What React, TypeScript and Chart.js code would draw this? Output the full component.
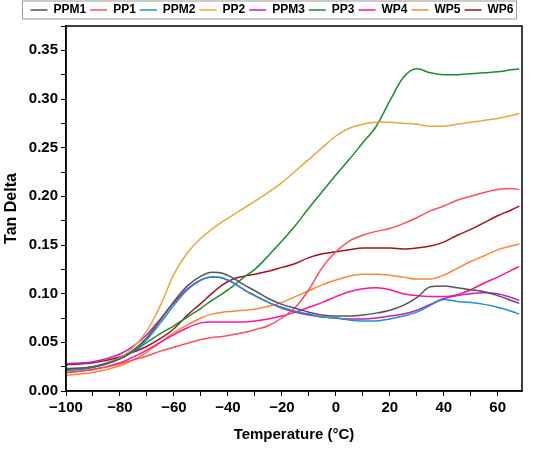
import { useEffect, useRef } from "react"
import { Chart, registerables } from "chart.js"

Chart.register(...registerables)

const temps = [-100, -90, -80, -75, -70, -65, -60, -55, -50, -46, -42, -38, -34, -30, -25, -20, -15, -10, -5, 0, 5, 10, 15, 20, 25, 30, 35, 40, 45, 50, 55, 60, 65, 68]

const ppm1 = [0.023, 0.025, 0.033, 0.042, 0.055, 0.073, 0.092, 0.108, 0.118, 0.122, 0.121, 0.116, 0.109, 0.103, 0.095, 0.089, 0.085, 0.081, 0.078, 0.077, 0.077, 0.078, 0.08, 0.083, 0.088, 0.096, 0.107, 0.108, 0.106, 0.104, 0.102, 0.098, 0.093, 0.09]
const pp1 = [0.019, 0.022, 0.028, 0.032, 0.036, 0.041, 0.045, 0.049, 0.053, 0.055, 0.056, 0.058, 0.06, 0.063, 0.067, 0.075, 0.086, 0.104, 0.127, 0.143, 0.154, 0.16, 0.164, 0.167, 0.172, 0.178, 0.185, 0.19, 0.196, 0.2, 0.204, 0.207, 0.208, 0.207]
const ppm2 = [0.021, 0.024, 0.033, 0.041, 0.053, 0.07, 0.088, 0.104, 0.114, 0.117, 0.116, 0.111, 0.104, 0.098, 0.091, 0.086, 0.082, 0.079, 0.076, 0.075, 0.073, 0.072, 0.072, 0.074, 0.077, 0.081, 0.088, 0.094, 0.092, 0.091, 0.089, 0.086, 0.082, 0.079]
const pp2 = [0.02, 0.024, 0.034, 0.045, 0.062, 0.088, 0.12, 0.142, 0.157, 0.166, 0.174, 0.181, 0.188, 0.195, 0.204, 0.214, 0.226, 0.238, 0.25, 0.262, 0.27, 0.274, 0.276, 0.276, 0.275, 0.274, 0.272, 0.272, 0.274, 0.276, 0.278, 0.28, 0.283, 0.285]
const ppm3 = [0.028, 0.03, 0.038, 0.046, 0.058, 0.074, 0.091, 0.105, 0.114, 0.117, 0.116, 0.111, 0.104, 0.098, 0.091, 0.085, 0.081, 0.078, 0.076, 0.075, 0.074, 0.074, 0.075, 0.077, 0.079, 0.083, 0.089, 0.095, 0.098, 0.1, 0.101, 0.1, 0.096, 0.093]
const pp3 = [0.022, 0.025, 0.034, 0.041, 0.05, 0.059, 0.067, 0.076, 0.085, 0.093, 0.1, 0.108, 0.117, 0.125, 0.139, 0.154, 0.17, 0.188, 0.205, 0.222, 0.238, 0.255, 0.272, 0.298, 0.322, 0.331, 0.327, 0.325, 0.325, 0.326, 0.327, 0.328, 0.33, 0.331]
const wp4 = [0.019, 0.022, 0.029, 0.035, 0.042, 0.05, 0.058, 0.065, 0.07, 0.071, 0.071, 0.071, 0.071, 0.072, 0.074, 0.077, 0.081, 0.086, 0.091, 0.097, 0.102, 0.105, 0.106, 0.104, 0.1, 0.098, 0.097, 0.097, 0.099, 0.104, 0.111, 0.117, 0.124, 0.128]
const wp5 = [0.016, 0.019, 0.026, 0.032, 0.04, 0.05, 0.06, 0.068, 0.075, 0.079, 0.081, 0.082, 0.083, 0.084, 0.087, 0.091, 0.097, 0.103, 0.109, 0.114, 0.118, 0.12, 0.12, 0.119, 0.117, 0.115, 0.115, 0.119, 0.126, 0.133, 0.139, 0.145, 0.149, 0.151]
const wp6 = [0.027, 0.029, 0.035, 0.04, 0.046, 0.054, 0.064, 0.078, 0.09, 0.1, 0.109, 0.115, 0.118, 0.12, 0.123, 0.127, 0.131, 0.137, 0.141, 0.143, 0.145, 0.147, 0.147, 0.147, 0.146, 0.147, 0.149, 0.153, 0.16, 0.166, 0.173, 0.18, 0.186, 0.19]

const seriesNames = ["PPM1", "PP1", "PPM2", "PP2", "PPM3", "PP3", "WP4", "WP5", "WP6"]
const seriesValues = [ppm1, pp1, ppm2, pp2, ppm3, pp3, wp4, wp5, wp6]
const seriesColors = ["#555555", "#ff4b5c", "#1e8fd2", "#e8a838", "#c41ec4", "#1a8c2e", "#ff1493", "#ff8533", "#a3101f"]

const xTicks = [-100, -90, -80, -70, -60, -50, -40, -30, -20, -10, 0, 10, 20, 30, 40, 50, 60]

const FONT = "'Liberation Sans', Arial, sans-serif"

// box round the plot and round the legend
const framePlugin = {
  id: "frame",
  afterDraw(chart: any) {
    const { ctx, chartArea } = chart
    ctx.save()
    ctx.strokeStyle = "#000"
    ctx.lineWidth = 1.5
    ctx.strokeRect(chartArea.left, chartArea.top, chartArea.right - chartArea.left, chartArea.bottom - chartArea.top)
    const boxes = chart.legend?.legendHitBoxes
    if (boxes && boxes.length) {
      const left = Math.min(...boxes.map((b: any) => b.left))
      const right = Math.max(...boxes.map((b: any) => b.left + b.width))
      const top = Math.min(...boxes.map((b: any) => b.top))
      const bottom = Math.max(...boxes.map((b: any) => b.top + b.height))
      ctx.strokeStyle = "#999"
      ctx.lineWidth = 1
      ctx.strokeRect(left - 8, top - 3, right - left + 11, bottom - top + 6)
    }
    ctx.restore()
  },
}

export default function App() {
  const chartRef = useRef<HTMLCanvasElement>(null)
  const chartInstance = useRef<Chart | null>(null)

  useEffect(() => {
    document.body.style.margin = "0"
    if (!chartRef.current) return
    if (chartInstance.current) {
      chartInstance.current.destroy()
    }
    const ctx = chartRef.current.getContext("2d")
    if (!ctx) return

    chartInstance.current = new Chart(ctx, {
      type: "line",
      data: {
        datasets: seriesNames.map((name, i) => ({
          label: name,
          data: temps.map((t, j) => ({ x: t, y: seriesValues[i][j] })),
          borderColor: seriesColors[i],
          backgroundColor: seriesColors[i],
          borderWidth: 1.5,
          pointRadius: 0,
          cubicInterpolationMode: "monotone",
        })),
      },
      options: {
        responsive: false,
        animation: false,
        layout: { padding: { left: 2, right: 8, top: 0, bottom: 4 } },
        plugins: {
          legend: {
            display: true,
            position: "top",
            labels: {
              usePointStyle: true,
              pointStyle: "line",
              pointStyleWidth: 17,
              boxHeight: 12,
              padding: 4,
              color: "#000",
              font: { family: FONT, size: 12, weight: "bold" },
            },
          },
          tooltip: { enabled: false },
        },
        scales: {
          x: {
            type: "linear",
            min: -100,
            max: 69,
            afterBuildTicks: (axis: any) => {
              axis.ticks = xTicks.map((v) => ({ value: v }))
            },
            afterFit: (axis: any) => {
              axis.height = 55
            },
            border: { color: "#000", width: 1.5 },
            grid: { drawOnChartArea: false, drawTicks: true, tickLength: 5, color: "#000" },
            ticks: {
              autoSkip: false,
              maxRotation: 0,
              color: "#000",
              font: { family: FONT, size: 15, weight: "bold" },
              callback: (v: any) => (v % 20 === 0 ? (v < 0 ? "\u2212" + Math.abs(v) : String(v)) : ""),
            },
            title: {
              display: true,
              text: "Temperature (°C)",
              color: "#000",
              font: { family: FONT, size: 15, weight: "bold" },
              padding: { top: 0, bottom: 2 },
            },
          },
          y: {
            min: 0,
            max: 0.375,
            afterFit: (axis: any) => {
              axis.width = 64
            },
            border: { color: "#000", width: 1.5 },
            grid: { drawOnChartArea: false, drawTicks: true, tickLength: 5, color: "#000" },
            ticks: {
              stepSize: 0.025,
              autoSkip: false,
              color: "#000",
              font: { family: FONT, size: 15, weight: "bold" },
              callback: (v: any) => {
                const n = Math.round(v * 1000)
                return n % 50 === 0 ? (n / 1000).toFixed(2) : ""
              },
            },
            title: {
              display: true,
              text: "Tan Delta",
              color: "#000",
              font: { family: FONT, size: 16, weight: "bold" },
              padding: { top: 0, bottom: 2 },
            },
          },
          // empty right-hand axis, only to keep room right of the plot
          yRight: {
            position: "right",
            min: 0,
            max: 1,
            afterFit: (axis: any) => {
              axis.width = 20
            },
            border: { display: false },
            grid: { display: false },
            ticks: { display: false },
          },
        },
      },
      plugins: [framePlugin],
    } as any)

    return () => {
      if (chartInstance.current) {
        chartInstance.current.destroy()
        chartInstance.current = null
      }
    }
  }, [])

  return (
    <div style={{ width: 550, height: 450 }}>
      <canvas ref={chartRef} width={550} height={450} style={{ width: 550, height: 450 }} />
    </div>
  )
}
